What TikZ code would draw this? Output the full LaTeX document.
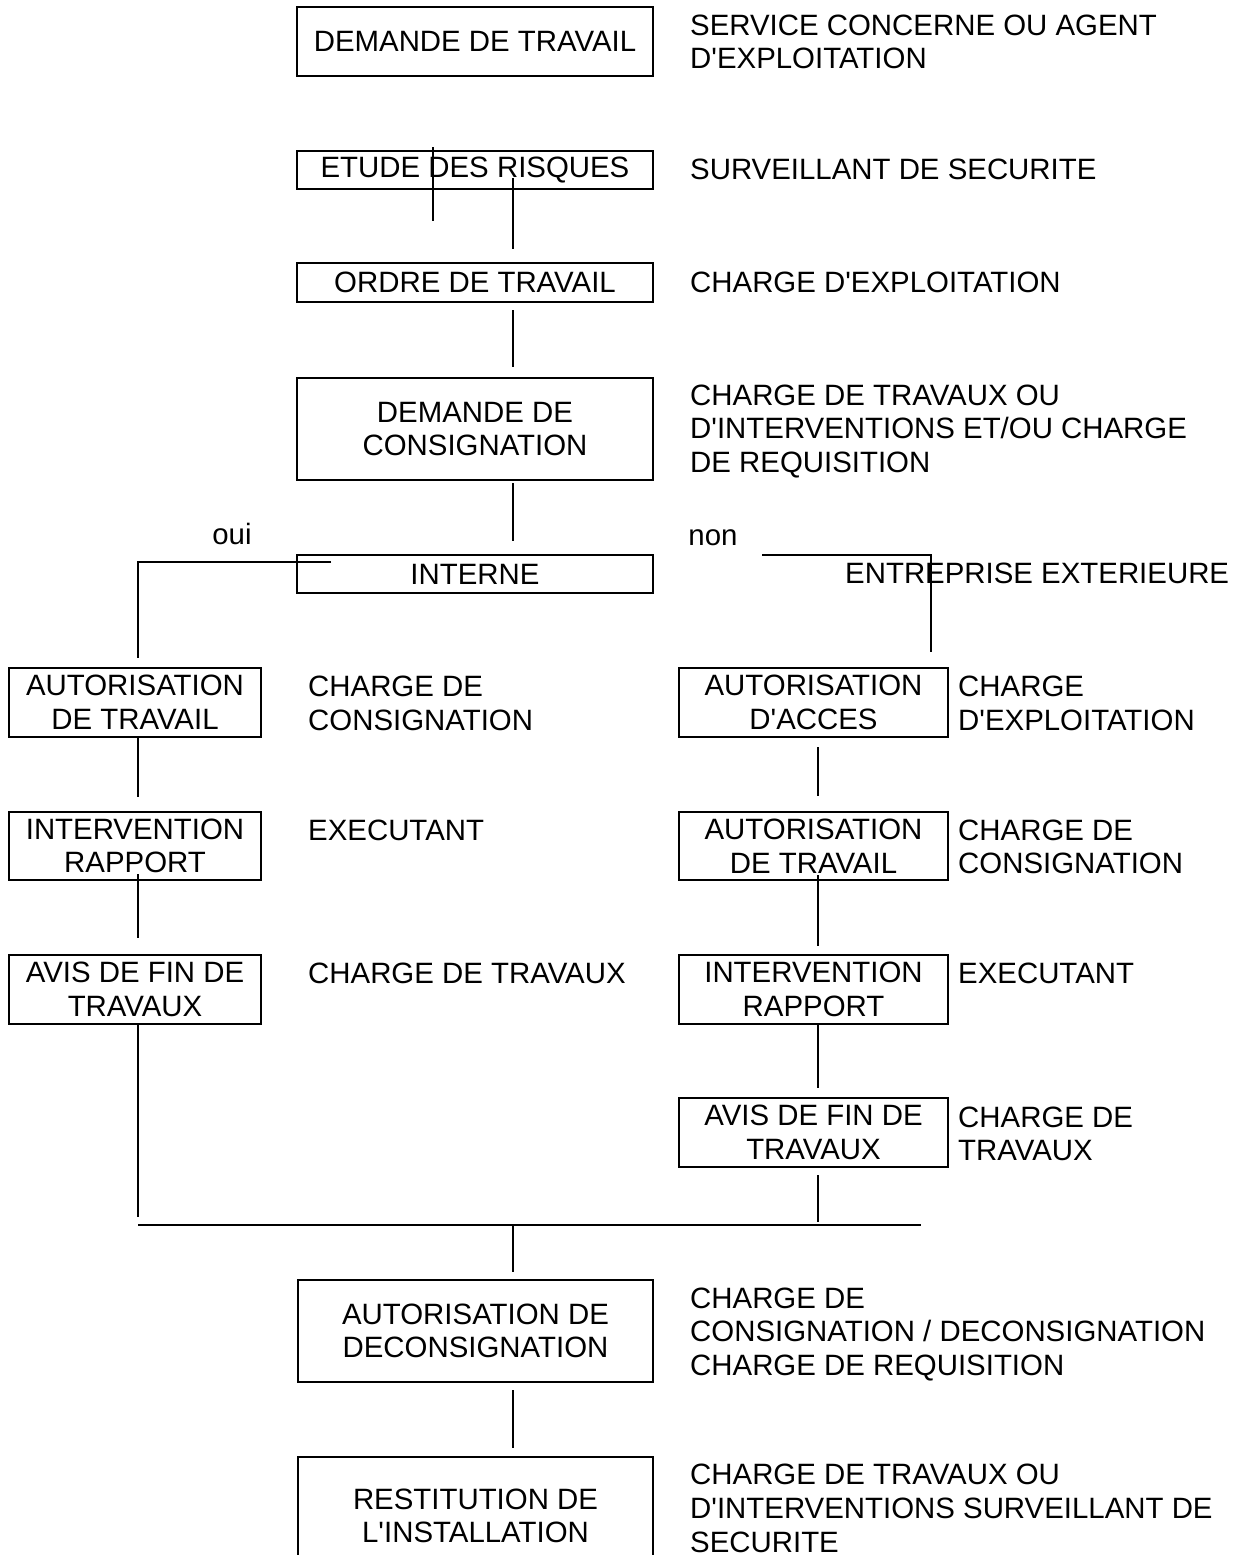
\documentclass[tikz,border=0pt]{standalone}
\usepackage{fontspec}
\setmainfont{Liberation Sans}[Ligatures=TeXOff]
\begin{document}
\begin{tikzpicture}[x=1pt,y=-1pt,
  every node/.style={font=\fontsize{29.4}{33.7}\selectfont},
  box/.style={draw,line width=1.6pt,inner sep=0pt,align=center},
  lbl/.style={anchor=north west,inner sep=0pt,align=left},
  conn/.style={line width=1.1pt},
  bar/.style={line width=1.6pt}]
\useasboundingbox (0,0) rectangle (1237,1555);
% central column
\node[box,minimum width=356pt,minimum height=69pt] (dt) at (475,41.5) {DEMANDE DE TRAVAIL};
\node[box,minimum width=356pt,minimum height=38pt] (er) at (475,170) {ETUDE DES RISQUES};
\node[box,minimum width=356pt,minimum height=39pt] (ot) at (475,282.5) {ORDRE DE TRAVAIL};
\node[box,minimum width=356pt,minimum height=102pt] (dc) at (475,429) {DEMANDE DE\\CONSIGNATION};
\node[box,minimum width=356pt,minimum height=38pt] (in) at (475,574) {INTERNE};
% left column
\node[box,minimum width=252pt,minimum height=69pt] (la) at (135,702.5) {AUTORISATION\\DE TRAVAIL};
\node[box,minimum width=252pt,minimum height=68pt] (li) at (135,846) {INTERVENTION\\RAPPORT};
\node[box,minimum width=252pt,minimum height=69pt] (lf) at (135,989.5) {AVIS DE FIN DE\\TRAVAUX};
% right column
\node[box,minimum width=269pt,minimum height=69pt] (ra) at (813.5,702.5) {AUTORISATION\\D'ACCES};
\node[box,minimum width=269pt,minimum height=68pt] (rt) at (813.5,846) {AUTORISATION\\DE TRAVAIL};
\node[box,minimum width=269pt,minimum height=69pt] (ri) at (813.5,989.5) {INTERVENTION\\RAPPORT};
\node[box,minimum width=269pt,minimum height=69pt] (rf) at (813.5,1132.5) {AVIS DE FIN DE\\TRAVAUX};
% bottom
\node[box,minimum width=355pt,minimum height=102pt] (ad) at (475.5,1331) {AUTORISATION DE\\DECONSIGNATION};
\node[box,minimum width=355pt,minimum height=118pt] (rs) at (475.5,1516) {RESTITUTION DE\\L'INSTALLATION};
% labels
\node[lbl] (t1) at (690,14.5) {SERVICE CONCERNE OU AGENT\\D'EXPLOITATION};
\node[lbl] (t2) at (690,158.5) {SURVEILLANT DE SECURITE};
\node[lbl] (t3) at (690,271.5) {CHARGE D'EXPLOITATION};
\node[lbl] (t4) at (690,384.5) {CHARGE DE TRAVAUX OU\\D'INTERVENTIONS ET/OU CHARGE\\DE REQUISITION};
\node[lbl] (t5) at (845,562.5) {ENTREPRISE EXTERIEURE};
\node[anchor=base,inner sep=0pt] (oui) at (232,544) {oui};
\node[anchor=base,inner sep=0pt] (non) at (713,545) {non};
\node[lbl] (l1) at (308,676) {CHARGE DE\\CONSIGNATION};
\node[lbl] (l2) at (308,819.5) {EXECUTANT};
\node[lbl] (l3) at (308,962.5) {CHARGE DE TRAVAUX};
\node[lbl] (r1) at (958,676) {CHARGE\\D'EXPLOITATION};
\node[lbl] (r2) at (958,819.5) {CHARGE DE\\CONSIGNATION};
\node[lbl] (r3) at (958,962.5) {EXECUTANT};
\node[lbl] (r4) at (958,1106.5) {CHARGE DE\\TRAVAUX};
\node[lbl] (b1) at (690,1287.5) {CHARGE DE\\CONSIGNATION / DECONSIGNATION\\CHARGE DE REQUISITION};
\node[lbl] (b2) at (690,1464) {CHARGE DE TRAVAUX OU\\D'INTERVENTIONS SURVEILLANT DE\\SECURITE};
% connector end points
\coordinate (s1a) at (433,147); \coordinate (s1b) at (433,221);
\coordinate (s2a) at (513,178); \coordinate (s2b) at (513,249);
\coordinate (s3a) at (513,310); \coordinate (s3b) at (513,367);
\coordinate (s4a) at (513,483); \coordinate (s4b) at (513,541);
\coordinate (ouiA) at (331,562); \coordinate (ouiB) at (138,562); \coordinate (ouiC) at (138,658);
\coordinate (nonA) at (762,555); \coordinate (nonB) at (931,555); \coordinate (nonC) at (931,652);
\coordinate (l12a) at (138,738); \coordinate (l12b) at (138,797);
\coordinate (l23a) at (138,874); \coordinate (l23b) at (138,938);
\coordinate (l3a) at (138,1025); \coordinate (l3b) at (138,1217);
\coordinate (r12a) at (818,747); \coordinate (r12b) at (818,796);
\coordinate (r23a) at (818,875); \coordinate (r23b) at (818,946);
\coordinate (r34a) at (818,1025); \coordinate (r34b) at (818,1088);
\coordinate (r4a) at (818,1175); \coordinate (r4b) at (818,1222);
\coordinate (barL) at (138,1225); \coordinate (barR) at (921,1225);
\coordinate (m1a) at (513,1224); \coordinate (m1b) at (513,1272);
\coordinate (m2a) at (513,1390); \coordinate (m2b) at (513,1448);
% connectors
\draw[conn] (s1a) -- (s1b);
\draw[conn] (s2a) -- (s2b);
\draw[conn] (s3a) -- (s3b);
\draw[conn] (s4a) -- (s4b);
\draw[conn] (ouiA) -- (ouiB) -- (ouiC);
\draw[conn] (nonA) -- (nonB) -- (nonC);
\draw[conn] (l12a) -- (l12b);
\draw[conn] (l23a) -- (l23b);
\draw[conn] (l3a) -- (l3b);
\draw[conn] (r12a) -- (r12b);
\draw[conn] (r23a) -- (r23b);
\draw[conn] (r34a) -- (r34b);
\draw[conn] (r4a) -- (r4b);
\draw[bar] (barL) -- (barR);
\draw[conn] (m1a) -- (m1b);
\draw[conn] (m2a) -- (m2b);
\end{tikzpicture}
\end{document}
